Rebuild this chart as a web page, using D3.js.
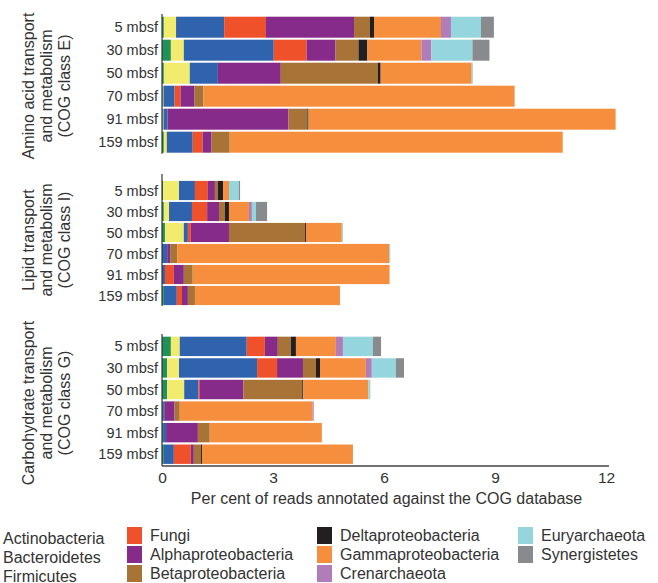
<!DOCTYPE html>
<html>
<head>
<meta charset="utf-8">
<script src="https://cdn.jsdelivr.net/npm/d3@7/dist/d3.min.js"></script>
<style>
  html, body { margin: 0; padding: 0; background: #fff; }
  svg text { font-family: "Liberation Sans", Arial, Helvetica, sans-serif; fill: #333; }
</style>
</head>
<body>
<svg id="chart" width="658" height="583"></svg>
<script>
// Sampling depths (metres below sea floor)
const depths = ["5 mbsf", "30 mbsf", "50 mbsf", "70 mbsf", "91 mbsf", "159 mbsf"];

// Taxonomic groups, in stacking order
const taxa = [
  "Actinobacteria", "Bacteroidetes", "Firmicutes", "Fungi",
  "Alphaproteobacteria", "Betaproteobacteria", "Deltaproteobacteria",
  "Gammaproteobacteria", "Crenarchaeota", "Euryarchaeota", "Synergistetes"
];
const taxaColors = [
  "#21915a", "#f2ec6e", "#2f63ad", "#ef522b",
  "#872b8b", "#a87337", "#231f20",
  "#f58f3d", "#b17db8", "#95d6de", "#898a8e"
];

// COG functional classes
const cogClasses = ["E", "I", "G"];
const cogLines = {
  E: ["Amino acid transport", "and metabolism", "(COG class E)"],
  I: ["Lipid transport", "and metabolism", "(COG class I)"],
  G: ["Carbohydrate transport", "and metabolism", "(COG class G)"]
};

// Per cent of reads per taxon, one row per depth (taxa order as above)
const aminoAcidE = [
  [0.05, 0.33, 1.30, 1.13, 2.38, 0.43, 0.11, 1.81, 0.27, 0.81, 0.35],
  [0.24, 0.35, 2.43, 0.89, 0.78, 0.62, 0.24, 1.46, 0.27, 1.11, 0.46],
  [0.05, 0.70, 0.76, 0.00, 1.70, 2.62, 0.08, 2.46, 0.00, 0.03, 0.00],
  [0.02, 0.02, 0.30, 0.16, 0.38, 0.24, 0.00, 8.41, 0.00, 0.00, 0.00],
  [0.02, 0.02, 0.11, 0.00, 3.27, 0.51, 0.03, 8.30, 0.00, 0.00, 0.00],
  [0.05, 0.08, 0.70, 0.27, 0.24, 0.49, 0.00, 9.00, 0.00, 0.00, 0.00]
];
const lipidI = [
  [0.03, 0.43, 0.43, 0.35, 0.19, 0.08, 0.14, 0.16, 0.00, 0.27, 0.03],
  [0.05, 0.14, 0.62, 0.41, 0.32, 0.16, 0.11, 0.54, 0.08, 0.11, 0.30],
  [0.08, 0.51, 0.11, 0.08, 1.03, 2.05, 0.03, 0.97, 0.00, 0.03, 0.00],
  [0.00, 0.00, 0.14, 0.00, 0.08, 0.19, 0.00, 5.73, 0.00, 0.03, 0.00],
  [0.00, 0.00, 0.08, 0.24, 0.27, 0.24, 0.00, 5.32, 0.00, 0.00, 0.00],
  [0.05, 0.00, 0.35, 0.14, 0.16, 0.19, 0.00, 3.92, 0.00, 0.00, 0.00]
];
const carbohydrateG = [
  [0.24, 0.24, 1.81, 0.49, 0.35, 0.35, 0.14, 1.08, 0.19, 0.81, 0.22],
  [0.14, 0.32, 2.11, 0.54, 0.70, 0.35, 0.11, 1.24, 0.16, 0.65, 0.22],
  [0.14, 0.46, 0.38, 0.03, 1.19, 1.59, 0.03, 1.76, 0.00, 0.05, 0.00],
  [0.03, 0.00, 0.03, 0.00, 0.28, 0.14, 0.00, 3.59, 0.03, 0.00, 0.00],
  [0.03, 0.00, 0.08, 0.00, 0.86, 0.32, 0.00, 3.03, 0.00, 0.00, 0.00],
  [0.05, 0.00, 0.27, 0.46, 0.08, 0.19, 0.03, 4.08, 0.00, 0.00, 0.00]
];

const xTicks = [0, 3, 6, 9, 12];
const xTitle = "Per cent of reads annotated against the COG database";

// ---- layout ----
const svg = d3.select("#chart");
const x = d3.scaleLinear().domain([0, 12]).range([162, 606]);
const color = d3.scaleOrdinal().domain(taxa).range(taxaColors);

const panels = [
  { cls: "E", values: aminoAcidE,    yRange: [15.7, 153.7], pad: 0.087, axisTop: 14,  labelY: 86 },
  { cls: "I", values: lipidI,        yRange: [180, 306],    pad: 0.087, axisTop: 174, labelY: 240 },
  { cls: "G", values: carbohydrateG, yRange: [335.6, 465],  pad: 0.10,  axisTop: 334, labelY: 403 }
];
const axisY = 466;

const stack = d3.stack().keys(d3.range(taxa.length));

panels.forEach(p => {
  const y = d3.scaleBand().domain(depths).range(p.yRange)
    .paddingInner(p.pad).paddingOuter(p.pad / 2);
  const rows = p.values.map((v, i) => Object.assign({ depth: depths[i] }, v));
  const series = stack(rows);

  const g = svg.append("g").attr("class", "panel-" + p.cls);

  g.selectAll("g.layer").data(series).join("g")
    .attr("class", "layer")
    .attr("fill", d => taxaColors[d.key])
    .selectAll("rect").data(d => d).join("rect")
    .attr("x", d => x(d[0]))
    .attr("y", d => y(d.data.depth))
    .attr("width", d => Math.max(0, x(d[1]) - x(d[0])))
    .attr("height", y.bandwidth());

  // depth labels
  g.selectAll("text.depth").data(depths).join("text")
    .attr("class", "depth")
    .attr("x", 158)
    .attr("y", d => y(d) + y.bandwidth() / 2)
    .attr("text-anchor", "end")
    .attr("dominant-baseline", "central")
    .style("font-size", "14.5px")
    .text(d => d);

  // vertical axis line for the panel
  g.append("line")
    .attr("x1", 162).attr("x2", 162)
    .attr("y1", p.axisTop).attr("y2", p.cls === "G" ? axisY : p.yRange[1])
    .attr("stroke", "#333").attr("stroke-width", 1.2);

  // rotated class label, three lines
  const lbl = g.append("text")
    .attr("transform", `translate(28,${p.labelY}) rotate(-90)`)
    .attr("text-anchor", "middle")
    .style("font-size", "16px");
  cogLines[p.cls].forEach((t, i) => {
    lbl.append("tspan").attr("x", 0).attr("y", i * 18)
      .attr("dominant-baseline", "central").text(t);
  });
});

// x axis
const xAxis = d3.axisBottom(x).tickValues(xTicks).tickSize(0).tickPadding(6)
  .tickFormat(d3.format("d"));
const ax = svg.append("g").attr("transform", `translate(0,${axisY})`).call(xAxis);
ax.select(".domain").attr("stroke", "#444").attr("stroke-width", 1.5)
  .attr("d", `M162,0H609`);
ax.selectAll(".tick text").style("font-size", "15.5px")
  .style("font-family", "'Liberation Sans', Arial, sans-serif").attr("fill", "#333");

svg.append("text")
  .attr("x", (162 + 607) / 2 + 2)
  .attr("y", 504)
  .attr("text-anchor", "middle")
  .style("font-size", "16px")
  .text(xTitle);

// legend
const legendCols = [
  { x: 3,   items: [0, 1, 2],  swatch: false },
  { x: 127, items: [3, 4, 5],  swatch: true },
  { x: 317, items: [6, 7, 8],  swatch: true },
  { x: 518, items: [9, 10],    swatch: true }
];
const legend = svg.append("g").attr("class", "legend");
legendCols.forEach(c => {
  c.items.forEach((k, i) => {
    const top = 527 + i * 19;
    if (c.swatch) {
      legend.append("rect")
        .attr("x", c.x).attr("y", top)
        .attr("width", 15).attr("height", 17)
        .attr("fill", color(taxa[k]));
    }
    legend.append("text")
      .attr("x", c.swatch ? c.x + 23 : c.x)
      .attr("y", top + (c.swatch ? 8.5 : 11))
      .attr("dominant-baseline", "central")
      .style("font-size", "16px")
      .text(taxa[k]);
  });
});
</script>
</body>
</html>
